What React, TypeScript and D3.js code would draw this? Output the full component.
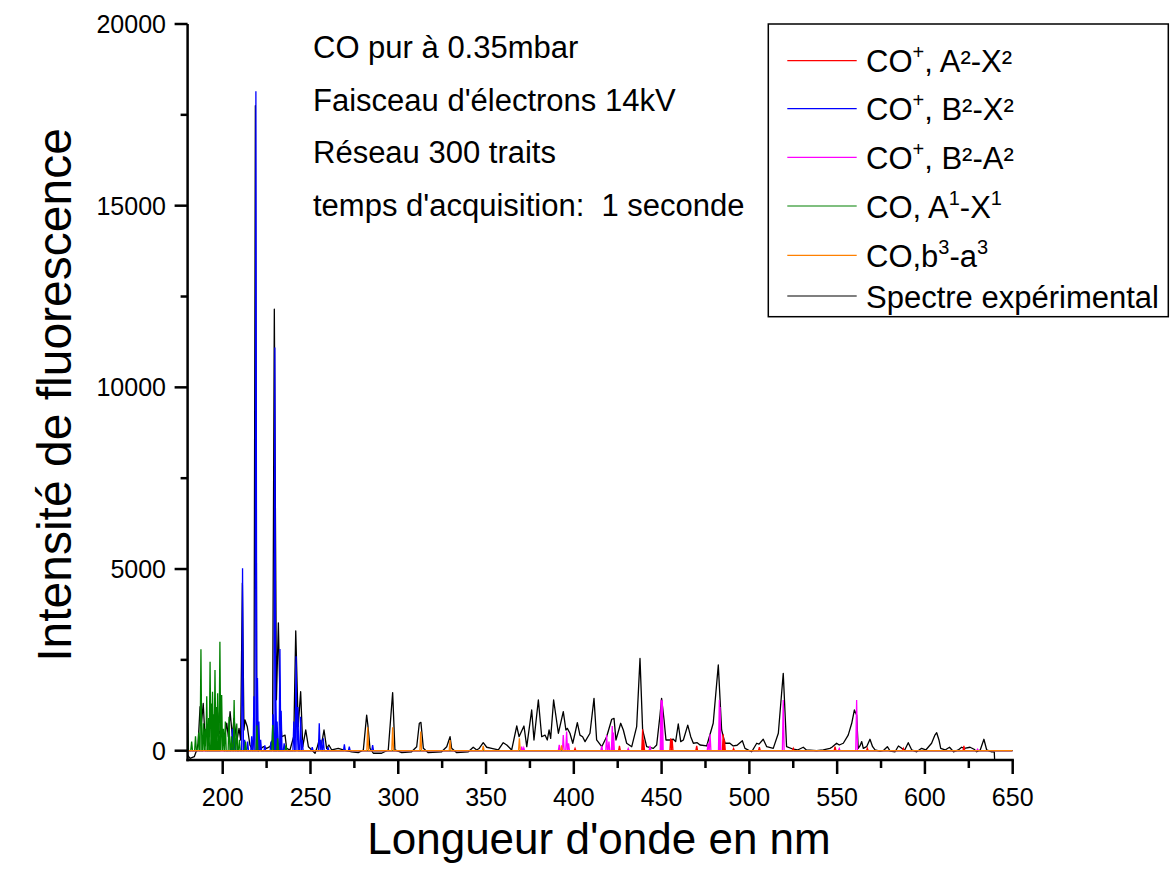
import React from "react";
import * as d3 from "d3";

// ---------- DATA ----------
const xTicksMajor = [200, 250, 300, 350, 400, 450, 500, 550, 600, 650];
const xTicksMinor = [225, 275, 325, 375, 425, 475, 525, 575, 625];
const yTicksMajor = [0, 5000, 10000, 15000, 20000];
const yTicksMinor = [2500, 7500, 12500, 17500];

const annotationLines = [
  "CO pur à 0.35mbar",
  "Faisceau d'électrons 14kV",
  "Réseau 300 traits",
  "temps d'acquisition:  1 seconde",
];

// Experimental spectrum [wavelength nm, intensity]
const experimental: [number, number][] = [
  [180, -120], [181.4, -210], [183.8, -165], [185.2, 20], [186, 200], [187.1, 1210], [187.8, 700],
  [188.9, 1300], [189.9, 385], [191.8, 615], [193.7, 660], [195.6, 845], [197.1, 1045], [198, 480],
  [199.4, 570], [201.3, 430], [202.3, 755], [203.2, 385], [204.2, 1075], [205.5, 385], [206.4, 890],
  [208, 250], [209.3, 615], [210.2, 295], [211.2, 4610], [212.1, 570], [212.7, 845], [214, 660],
  [215.5, 157], [216.9, 20], [217.8, 300], [218.6, 17750], [219.4, 500], [220.3, 0], [223.1, 110],
  [225, 65], [226.9, 110], [228.4, 300], [229.4, 12150], [230.6, 1400], [231.7, 3520], [232.7, 1200],
  [233.6, 385], [235.5, 430], [236.4, 65], [238.3, 20], [240.5, 400], [241.6, 3300], [243, 660],
  [244.4, 1625], [245.6, 110], [247.3, 570], [248.8, 110], [250.7, 20], [252.6, -70], [253.9, 110],
  [255, 300], [256, 100], [257.7, 570], [259.2, 65], [260.5, 157], [262.1, 20], [265.8, 65],
  [268.7, 20], [273.5, -30], [277.2, -55], [280.1, 20], [282, 980], [282.7, 700], [283.9, 65],
  [285.8, -70], [290.5, -70], [294.3, 20], [296.8, 1600], [298.1, 20], [302, -55], [307.6, -30],
  [310.5, 110], [312, 755], [312.9, 780], [314.3, 65], [317.1, -55], [324.7, -30], [327.6, 110],
  [329.5, 385], [330.4, 65], [333.3, -55], [339.9, -30], [342.7, 95], [344.7, 20], [346, 60],
  [348.4, 220], [350.4, 95], [353.2, 65], [357, 20], [359.8, 220], [361.8, 157], [364.6, 20],
  [367.5, 680], [368.8, 385], [371.6, 680], [373.2, 110], [376, 1120], [377.3, 295], [379.8, 1395],
  [381.7, 385], [383.6, 430], [384.9, 295], [385.9, 570], [386.8, 340], [388.5, 1395], [391.2, 480],
  [394, 1075], [395.5, 570], [396.3, 615], [397.8, 480], [399.4, 205], [400.7, 480], [402, 770],
  [403.5, 430], [405, 385], [406.4, 250], [409.2, 480], [411.5, 1440], [413, 295], [415.9, 110],
  [418.7, 385], [421.6, 865], [422.9, 890], [424, 295], [426.7, 755], [428.2, 570], [430.1, 205],
  [433, 110], [435.8, 660], [437.7, 2540], [439.2, 570], [441.5, 110], [445.3, 65], [447.2, 157],
  [449.1, 980], [450, 1440], [451.4, 845], [452.5, 295], [454.8, 295], [456.7, 315], [458, 250],
  [459.5, 735], [460.9, 250], [462.4, 295], [464.9, 705], [466.6, 385], [468.1, 205], [470.3, 220],
  [471.9, 157], [475.7, 130], [479.4, 755], [482.3, 2360], [484.2, 570], [486.1, 205], [488.9, 205],
  [490.8, 130], [493, 150], [496, 275], [497.5, 65], [501.3, -30], [504.2, 205], [505.5, 180],
  [507.9, 315], [509.9, 110], [513.6, 65], [516.5, 480], [519.3, 2130], [521.2, 110], [525, 40],
  [527.5, 20], [530.7, 95], [532.5, 20], [538.3, 0], [542.1, 20], [545.9, 65], [547, 95],
  [549.7, 205], [551.2, 157], [553.5, 205], [556.3, 430], [558.3, 755], [559.8, 1120], [561.1, 980],
  [562, 65], [563, 130], [564, 250], [564.9, 65], [566.8, 110], [568.7, 315], [570.2, 110],
  [571.6, 20], [574.4, -10], [576.5, 10], [578.6, 110], [580.2, -10], [583, -30], [584.9, 130],
  [586.8, 65], [588.5, 20], [590.5, 220], [592.5, 20], [595.3, -30], [598.1, 65], [600.5, 20],
  [603.8, 205], [605.7, 430], [606.7, 495], [608, 295], [609, 65], [611.5, 20], [614, 95],
  [616.3, -30], [619, 20], [620.9, 95], [622.5, 65], [625.7, 95], [628, 40], [629.5, -30],
  [631.5, 20], [633.6, 315], [635.2, 20], [638, -30], [639.5, -30], [639.7, -256],
];

// Computed band lines [wavelength nm, peak intensity]
const coPlusAX: [number, number][] = [
  [400.7, 65], [426.0, 130], [439.2, 590], [439.8, 300], [455.2, 340], [456.0, 300], [470.0, 130],
  [485.1, 450], [485.8, 300], [491.0, 60], [505.7, 95], [525.0, 65], [548.8, 110], [567.2, 65],
  [587.7, 65], [622.2, 130],
];
const coPlusBX: [number, number][] = [
  [205.5, 600], [207.0, 350], [211.3, 5020], [212.5, 300], [214.2, 250], [216.5, 400], [217.8, 1500],
  [218.9, 18150], [219.8, 2000], [220.6, 800], [221.6, 300], [224.0, 150], [227.5, 250], [228.6, 1000],
  [229.7, 11100], [230.3, 1400], [231.0, 800], [232.6, 2800], [233.3, 1100], [235.0, 200], [240.5, 800],
  [241.8, 2600], [242.8, 1200], [244.4, 935], [245.3, 300], [251.0, 100], [255.0, 755], [256.0, 300],
  [257.3, 340], [260.0, 100], [269.3, 175], [272.1, 110], [285.4, 157],
];
const coPlusBA: [number, number][] = [
  [370.3, 110], [371.5, 80], [391.7, 160], [394.0, 430], [395.9, 525], [397.0, 200], [415.9, 130],
  [418.7, 430], [420.0, 250], [421.9, 680], [422.6, 500], [431.0, 60], [443.4, 130], [449.7, 1400],
  [450.4, 1380], [476.5, 200], [477.6, 450], [482.9, 1395], [483.3, 1200], [519.3, 1395], [551.2, 60],
  [561.1, 1395], [630.0, 40],
];
const coAX: [number, number][] = [
  [180.0, 760], [182.3, 250], [184.5, 400], [186.3, 500], [187.6, 2790], [189.0, 755], [190.0, 600],
  [190.9, 1500], [192.0, 900], [192.8, 2450], [193.6, 1300], [194.2, 1625], [195.0, 1000], [195.6, 2220],
  [196.3, 1200], [197.1, 1580], [197.8, 900], [198.4, 3000], [199.4, 1530], [200.4, 600], [201.5, 800],
  [203.6, 935], [205.0, 400], [206.5, 1395], [208.0, 750], [209.5, 300], [213.0, 250], [219.5, 700],
  [228.5, 705], [231.3, 340], [236.0, 150],
];
const coBA: [number, number][] = [
  [282.6, 645], [296.8, 645], [312.8, 525], [329.5, 295], [348.4, 130], [369.0, 340], [393.0, 150],
];

const seriesNames = ["coPlusAX", "coPlusBX", "coPlusBA", "coAX", "coBA", "experimental"];
const seriesColors = ["#ff0000", "#0000ff", "#ff00ff", "#008000", "#ff8000", "#000000"];

// legend label segments: [text, isSuperscript]
const legendLabels: [string, boolean][][] = [
  [["CO", false], ["+", true], [", A²-X²", false]],
  [["CO", false], ["+", true], [", B²-X²", false]],
  [["CO", false], ["+", true], [", B²-A²", false]],
  [["CO, A", false], ["1", true], ["-X", false], ["1", true]],
  [["CO,b", false], ["3", true], ["-a", false], ["3", true]],
  [["Spectre expérimental", false]],
];

// ---------- LAYOUT ----------
const W = 1171, H = 882;
const L = 187.6, R = 1012.7, Y0 = 750.7, YTOP = 24, XAXIS_Y = 760;
const FONT = "Arial, 'Liberation Sans', sans-serif";

const x = d3.scaleLinear().domain([180, 650]).range([L, R]);
const y = d3.scaleLinear().domain([0, 20000]).range([Y0, YTOP]);

function sticks(peaks: [number, number][], hw = 0.5): [number, number][] {
  const pts: [number, number][] = [[180, 0]];
  peaks.slice().sort((a, b) => a[0] - b[0]).forEach(([w, h]) => {
    pts.push([w - hw, 0], [w, h], [w + hw, 0]);
  });
  pts.push([650, 0]);
  return pts;
}

const line = d3.line<[number, number]>().x(d => x(d[0])).y(d => y(d[1]));

function renderLabel(segs: [string, boolean][]) {
  let prevSup = false;
  return segs.map(([t, sup], i) => {
    let dy = 0;
    if (sup && !prevSup) dy = -13;
    if (!sup && prevSup) dy = 13;
    prevSup = sup;
    return (
      <tspan key={i} dy={dy} fontSize={sup ? 20 : 31}>{t}</tspan>
    );
  });
}

export default function App() {
  const comp = [coPlusAX, coPlusBX, coPlusBA, coAX, coBA];
  const legendRows = [60.7, 108.7, 157.3, 206, 255.3, 296];
  return (
    <svg width={W} height={H} style={{ position: "absolute", left: 0, top: 0, background: "#fff" }}
      fontFamily={FONT}>
      <defs>
        <clipPath id="plot">
          <rect x={L} y={0} width={R - L} height={XAXIS_Y} />
        </clipPath>
      </defs>
      <rect x={0} y={0} width={W} height={H} fill="#fff" />
      <g clipPath="url(#plot)" fill="none" strokeWidth={1.3}>
        <path d={line(experimental) || ""} stroke={seriesColors[5]} strokeLinejoin="round" />
        {comp.map((s, i) => (
          <path key={seriesNames[i]} d={line(sticks(s)) || ""} stroke={seriesColors[i]} />
        ))}
      </g>
      {/* axes */}
      <g stroke="#000" strokeWidth={2.5}>
        <line x1={L} x2={L} y1={YTOP} y2={XAXIS_Y + 1.2} />
        <line x1={L - 1.2} x2={R + 1.2} y1={XAXIS_Y} y2={XAXIS_Y} />
        {xTicksMajor.map(t => <line key={"xm" + t} x1={x(t)} x2={x(t)} y1={XAXIS_Y} y2={XAXIS_Y + 14} />)}
        {xTicksMinor.map(t => <line key={"xn" + t} x1={x(t)} x2={x(t)} y1={XAXIS_Y} y2={XAXIS_Y + 8} />)}
        {yTicksMajor.map(t => <line key={"ym" + t} x1={L - 13} x2={L} y1={y(t)} y2={y(t)} />)}
        {yTicksMinor.map(t => <line key={"yn" + t} x1={L - 7} x2={L} y1={y(t)} y2={y(t)} />)}
      </g>
      <g fontSize={25} fill="#000">
        {xTicksMajor.map(t => (
          <text key={"xl" + t} x={x(t)} y={806} textAnchor="middle">{t}</text>
        ))}
        {yTicksMajor.map(t => (
          <text key={"yl" + t} x={166} y={y(t) + 9} textAnchor="end">{t}</text>
        ))}
      </g>
      <text x={599} y={854} fontSize={44} textAnchor="middle">Longueur d'onde en nm</text>
      <text transform={`translate(71,395) rotate(-90)`} fontSize={48} textAnchor="middle">Intensité de fluorescence</text>
      {/* annotation */}
      <g fontSize={31}>
        {annotationLines.map((s, i) => (
          <text key={i} x={313} y={58 + i * 52.7} style={{ whiteSpace: "pre" }}>{s}</text>
        ))}
      </g>
      {/* legend */}
      <rect x={768.3} y={24} width={400} height={292.7} fill="#fff" stroke="#000" strokeWidth={1.5} />
      {legendRows.map((ry, i) => (
        <g key={"lg" + i}>
          <line x1={787.3} x2={856.7} y1={ry} y2={ry} stroke={seriesColors[i]} strokeWidth={1.2} />
          <text x={866} y={ry + 11.5} fontSize={31}>{renderLabel(legendLabels[i])}</text>
        </g>
      ))}
    </svg>
  );
}
